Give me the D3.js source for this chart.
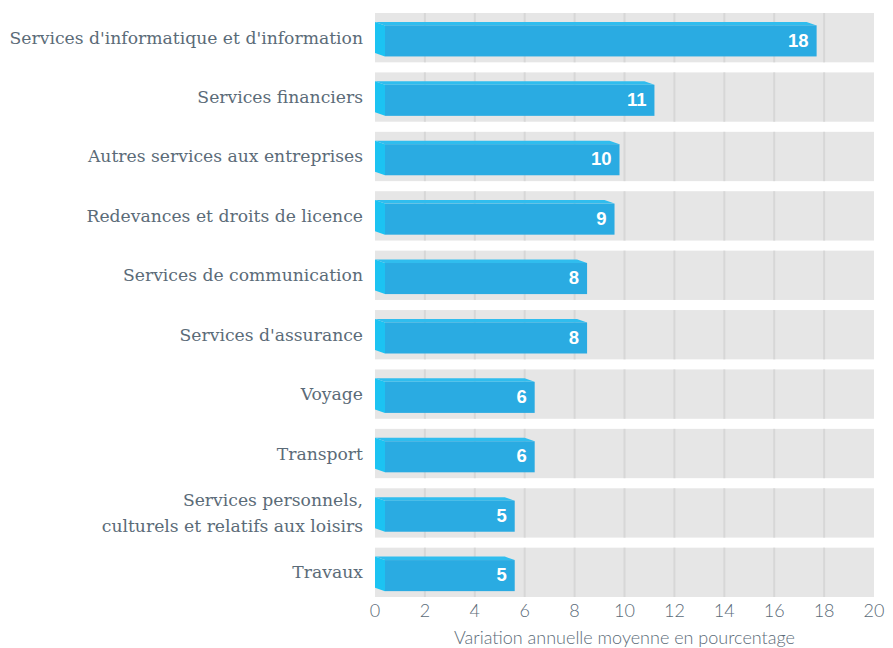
<!DOCTYPE html>
<html>
<head>
<meta charset="utf-8">
<script src="https://cdn.jsdelivr.net/npm/d3@7"></script>
<style>
  body { margin: 0; background: #fff; }
  #vis { width: 893px; height: 648px; }
</style>
</head>
<body>
<div id="vis"></div>
<script>
var categories = [
	'Services d\'informatique et d\'information',
	'Services financiers',
	'Autres services aux entreprises',
	'Redevances et droits de licence',
	'Services de communication',
	'Services d\'assurance',
	'Voyage',
	'Transport',
	'Services personnels,|culturels et relatifs aux loisirs',
	'Travaux'
];
var values = [17.7, 11.2, 9.8, 9.6, 8.5, 8.5, 6.4, 6.4, 5.6, 5.6];
var value_labels = ['18', '11', '10', '9', '8', '8', '6', '6', '5', '5'];
var x_ticks = [0, 2, 4, 6, 8, 10, 12, 14, 16, 18, 20];
var x_title = 'Variation annuelle moyenne en pourcentage';

var width = 893;
var height = 648;
var margin = {
	top: 13,
	bottom: 51,
	left: 375,
	right: 19
};
var text_colour = '#5b6b78';

var svg = d3.select('#vis').append('svg').attr('width', width).attr('height', height);

var x_scale = d3.scaleLinear().domain([0, 20]).range([margin.left, width - margin.right]);
var y_scale = d3.scaleBand().domain(categories).range([margin.top, height - margin.bottom]).paddingInner(0.17).paddingOuter(0);
var bw = y_scale.bandwidth();

// grey row bands
svg.selectAll('.band').data(categories).enter().append('rect')
	.attr('class', 'band')
	.attr('x', x_scale(0))
	.attr('y', function(d) { return y_scale(d); })
	.attr('width', x_scale(20) - x_scale(0))
	.attr('height', bw)
	.attr('fill', '#e6e6e6');

// gridlines, only inside the bands
var grid_ticks = x_ticks.filter(function(t) { return t > 0 && t < 20; });
categories.forEach(function(c) {
	svg.selectAll(null).data(grid_ticks).enter().append('line')
		.attr('x1', function(d) { return x_scale(d); })
		.attr('x2', function(d) { return x_scale(d); })
		.attr('y1', y_scale(c))
		.attr('y2', y_scale(c) + bw)
		.attr('stroke', '#d7d7d7')
		.attr('stroke-width', 2);
});

// 3d bars
var depth = 10, dy = 3.5;
var rows = categories.map(function(c, i) {
	return { cat: c, value: values[i], label: value_labels[i] };
});
var bar_g = svg.selectAll('.bar').data(rows).enter().append('g').attr('class', 'bar');

function top_of(d) { return y_scale(d.cat) + bw * 0.18; }
var bar_h = bw * 0.63;

// left side face
bar_g.append('path').attr('fill', '#1cc3f2').attr('d', function(d) {
	var x0 = x_scale(0), t = top_of(d);
	return 'M' + x0 + ',' + t + 'L' + (x0 + depth) + ',' + (t + dy) + 'L' + (x0 + depth) + ',' + (t + dy + bar_h) + 'L' + x0 + ',' + (t + bar_h) + 'Z';
});
// top face
bar_g.append('path').attr('fill', '#30bdee').attr('d', function(d) {
	var x0 = x_scale(0), x1 = x_scale(d.value), t = top_of(d);
	return 'M' + x0 + ',' + t + 'L' + (x1 - depth) + ',' + t + 'L' + x1 + ',' + (t + dy) + 'L' + (x0 + depth) + ',' + (t + dy) + 'Z';
});
// front face
bar_g.append('rect').attr('fill', '#2aabe2')
	.attr('x', x_scale(0) + depth)
	.attr('y', function(d) { return top_of(d) + dy; })
	.attr('width', function(d) { return x_scale(d.value) - x_scale(0) - depth; })
	.attr('height', bar_h);

bar_g.append('text')
	.attr('x', function(d) { return x_scale(d.value) - 8; })
	.attr('y', function(d) { return top_of(d) + dy + bar_h / 2 - 1; })
	.attr('dy', '0.36em')
	.attr('text-anchor', 'end')
	.attr('fill', '#fff')
	.style('font-family', '"Liberation Sans", Arial, sans-serif')
	.style('font-weight', 'bold')
	.style('font-size', '18.5px')
	.text(function(d) { return d.label; });

// category labels
var cat_text = svg.selectAll('.cat').data(categories).enter().append('text')
	.attr('class', 'cat')
	.attr('x', x_scale(0) - 12)
	.attr('y', function(d) { return y_scale(d) + bw / 2; })
	.attr('text-anchor', 'end')
	.attr('fill', text_colour)
	.style('font-family', '"DejaVu Serif", serif')
	.style('font-size', '17.2px');
cat_text.each(function(d) {
	var lines = d.split('|');
	var t = d3.select(this);
	lines.forEach(function(l, i) {
		t.append('tspan')
			.attr('x', x_scale(0) - 12)
			.attr('dy', i === 0 ? (0.35 - (lines.length - 1) * 0.75) + 'em' : '1.5em')
			.text(l);
	});
});

// x axis tick labels
svg.selectAll('.tick-label').data(x_ticks).enter().append('text')
	.attr('class', 'tick-label')
	.attr('x', function(d) { return x_scale(d); })
	.attr('y', 611)
	.attr('dy', '0.36em')
	.attr('text-anchor', 'middle')
	.attr('fill', text_colour)
	.style('font-family', 'Lato, "Open Sans", sans-serif')
	.style('font-weight', 300)
	.style('font-size', '18px')
	.text(function(d) { return d; });

svg.append('text')
	.attr('x', x_scale(10))
	.attr('y', 638)
	.attr('dy', '0.36em')
	.attr('text-anchor', 'middle')
	.attr('fill', text_colour)
	.style('font-family', 'Lato, "Open Sans", sans-serif')
	.style('font-weight', 300)
	.style('font-size', '18px')
	.text(x_title);
</script>
</body>
</html>
